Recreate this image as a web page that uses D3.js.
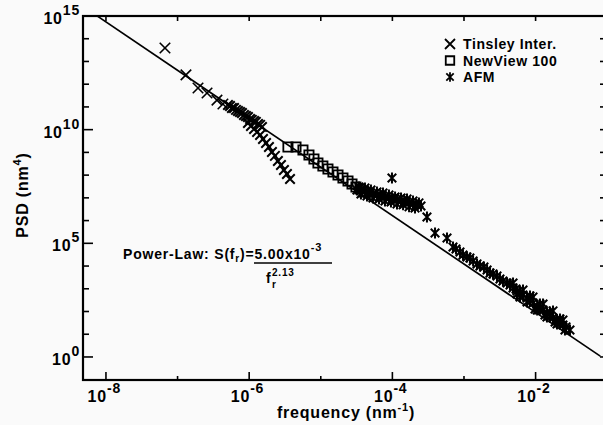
<!DOCTYPE html>
<html>
<head>
<meta charset="utf-8">
<script src="https://cdn.jsdelivr.net/npm/d3@7"></script>
<style>
    body { margin: 0; background: #fafafa; }
    svg { display: block; font-family: "Liberation Sans", Arial, sans-serif; font-weight: bold; }
</style>
</head>
<body>
<div id="chart"></div>
<script>
// psd chart - log-log power spectral density of three instruments

const width = 603;
const height = 425;
const plot = { left: 83, right: 606, top: 16, bottom: 380 };

// [frequency (nm^-1), PSD (nm^4)]
const tinsleyData = [
    [6.67e-8, 3.9e13], [1.31e-7, 2.57e12], [1.93e-7, 6.8e11], [2.58e-7, 4.1e11], [3.55e-7, 2.0e11], [4.3e-7, 1.35e11],
    [5.06e-7, 1.22e11], [5.4e-7, 1.1e11], [5.75e-7, 9.0e10], [6.14e-7, 9.0e10], [6.55e-7, 7.4e10], [6.98e-7, 6.6e10],
    [7.45e-7, 6.0e10], [7.93e-7, 5.4e10], [8.46e-7, 4.4e10], [9.02e-7, 4.0e10], [9.62e-7, 3.6e10], [1.03e-6, 2.95e10],
    [1.09e-6, 2.7e10], [1.17e-6, 2.4e10], [1.24e-6, 2.2e10], [1.33e-6, 1.78e10], [1.42e-6, 1.62e10], [1.51e-6, 1.32e10],
    [9.62e-7, 1.97e10], [1.06e-6, 1.45e10], [1.17e-6, 1.07e10], [1.29e-6, 7.9e9], [1.42e-6, 5.85e9], [1.56e-6, 3.9e9],
    [1.72e-6, 2.6e9], [1.89e-6, 1.73e9], [2.08e-6, 1.04e9], [2.29e-6, 7.0e8], [2.52e-6, 4.2e8], [2.78e-6, 2.8e8],
    [3.06e-6, 1.69e8], [3.37e-6, 1.12e8], [3.72e-6, 6.8e7]
];

const newviewData = [
    [3.48e-6, 1.73e9], [4.51e-6, 1.73e9], [5.64e-6, 1.28e9], [6.84e-6, 7.7e8], [8.03e-6, 5.1e8], [9.13e-6, 3.42e8],
    [1.07e-5, 2.53e8], [1.26e-5, 1.87e8], [1.48e-5, 1.38e8], [1.74e-5, 1.02e8], [2.04e-5, 7.5e7], [2.40e-5, 5.5e7],
    [2.73e-5, 4.08e7], [3.10e-5, 3.0e7], [3.53e-5, 2.46e7], [4.01e-5, 1.82e7]
];

const afmData = [
    [3.20e-5, 2.22e7], [3.64e-5, 2.22e7], [4.14e-5, 2.01e7], [4.71e-5, 1.64e7], [5.36e-5, 1.48e7], [6.09e-5, 1.34e7],
    [6.93e-5, 1.21e7], [7.88e-5, 1.09e7], [8.96e-5, 9.9e6], [1.02e-4, 8.9e6], [1.16e-4, 8.1e6], [1.32e-4, 7.3e6],
    [1.50e-4, 6.6e6], [1.71e-4, 6.0e6], [1.94e-4, 5.4e6], [2.21e-4, 4.9e6], [2.51e-4, 4.4e6],
    [3.64e-5, 1.48e7], [4.42e-5, 1.21e7], [5.36e-5, 9.9e6], [6.50e-5, 8.9e6], [7.88e-5, 7.3e6], [9.56e-5, 6.6e6],
    [1.16e-4, 5.4e6], [1.41e-4, 4.9e6], [1.71e-4, 4.0e6], [2.07e-4, 3.6e6],
    [3.42e-5, 3.01e7], [4.14e-5, 2.72e7], [5.02e-5, 2.22e7], [6.09e-5, 1.82e7], [7.39e-5, 1.64e7], [8.96e-5, 1.34e7],
    [1.09e-4, 1.09e7], [1.32e-4, 9.9e6], [1.60e-4, 8.9e6], [1.94e-4, 7.3e6], [2.35e-4, 6.0e6],
    [9.87e-5, 7.5e7], [3.04e-4, 1.44e6], [3.94e-4, 2.85e5], [5.79e-4, 1.72e5],
    [7.02e-4, 6.9e4], [7.73e-4, 5.64e4], [8.79e-4, 4.16e4], [9.68e-4, 3.07e4], [1.10e-3, 2.51e4], [1.21e-3, 2.27e4],
    [1.34e-3, 1.67e4], [1.52e-3, 1.24e4], [1.67e-3, 1.01e4], [1.90e-3, 9.1e3], [2.10e-3, 6.7e3], [2.31e-3, 4.96e3],
    [2.54e-3, 4.5e3], [2.89e-3, 3.66e3], [3.18e-3, 2.7e3], [3.50e-3, 2.21e3], [3.99e-3, 1.80e3], [4.39e-3, 1.47e3],
    [4.84e-3, 1.09e3], [5.50e-3, 801], [6.05e-3, 655], [6.67e-3, 535], [7.59e-3, 394], [8.35e-3, 322],
    [9.20e-3, 238], [1.05e-2, 175], [1.15e-2, 143], [1.27e-2, 117], [1.44e-2, 86], [1.59e-2, 63.7], [1.75e-2, 52],
    [1.99e-2, 42.5], [2.19e-2, 31], [2.41e-2, 25.6], [2.66e-2, 21], [3.02e-2, 15.4],
    [4.84e-3, 1.80e3], [6.67e-3, 887], [9.20e-3, 436], [1.27e-2, 215], [1.75e-2, 106], [2.41e-2, 42.5],
    [5.50e-3, 591], [7.59e-3, 263], [1.05e-2, 117], [1.44e-2, 57.5], [1.99e-2, 28.3], [2.57e-2, 15.4],
    [5.33e-3, 982], [6.05e-3, 436], [8.35e-3, 483], [9.81e-3, 129], [1.15e-2, 215], [1.35e-2, 70.4],
    [1.59e-2, 95.5], [1.87e-2, 34.7], [2.19e-2, 47]
];

// power-law fit S(f) = coef / f^exp, drawn between these frequencies
const lawCoef = 5.00e-3;
const lawExp = 2.13;
const lawFreqRange = [7.5e-9, 0.08];

const xTicks = [1e-8, 1e-7, 1e-6, 1e-5, 1e-4, 1e-3, 1e-2];
const xLabelExps = [-8, -6, -4, -2];
const yTicks = d3.range(0, 16).map(e => Math.pow(10, e));
const yLabelExps = [0, 5, 10, 15];
const legendNames = ["Tinsley Inter.", "NewView 100", "AFM"];

const x = d3.scaleLog().domain([4.78e-9, 0.0962]).range([plot.left, plot.right]);
const y = d3.scaleLog().domain([0.097, 1e15]).range([plot.bottom, plot.top]);

// stroked marker shapes for d3.symbol
const timesType = {
    draw(ctx, size) {
        const r = Math.sqrt(size) / 2;
        ctx.moveTo(-r, -r); ctx.lineTo(r, r);
        ctx.moveTo(-r, r); ctx.lineTo(r, -r);
    }
};
const starType = {
    draw(ctx, size) {
        const r = Math.sqrt(size) / 2;
        const d = r * 0.78;
        ctx.moveTo(0, -r); ctx.lineTo(0, r);
        ctx.moveTo(-d, -d); ctx.lineTo(d, d);
        ctx.moveTo(-d, d); ctx.lineTo(d, -d);
    }
};
const squareType = {
    draw(ctx, size) {
        const r = Math.sqrt(size) / 2;
        ctx.rect(-r, -r, 2 * r, 2 * r);
    }
};

const svg = d3.select("#chart")
    .append("svg")
    .attr("width", width)
    .attr("height", height);

svg.append("rect")
    .attr("width", width)
    .attr("height", height)
    .attr("fill", "#fafafa");

svg.append("clipPath")
    .attr("id", "plot-clip")
    .append("rect")
    .attr("x", plot.left)
    .attr("y", plot.top)
    .attr("width", plot.right - plot.left)
    .attr("height", plot.bottom - plot.top);

const gPlot = svg.append("g").attr("clip-path", "url(#plot-clip)");

// fit line
const lawPoints = lawFreqRange.map(f => [f, lawCoef / Math.pow(f, lawExp)]);
gPlot.append("path")
    .datum(lawPoints)
    .attr("d", d3.line().x(d => x(d[0])).y(d => y(d[1])))
    .attr("fill", "none")
    .attr("stroke", "#000")
    .attr("stroke-width", 1.7);

function drawMarkers(data, type, size, sw, cls) {
    gPlot.append("g")
        .attr("class", cls)
        .selectAll("path")
        .data(data)
        .enter()
        .append("path")
        .attr("transform", d => `translate(${x(d[0])},${y(d[1])})`)
        .attr("d", d3.symbol().type(type).size(size))
        .attr("fill", "none")
        .attr("stroke", "#000")
        .attr("stroke-width", sw);
}

drawMarkers(tinsleyData.slice(0, 6), timesType, 110, 1.6, "tinsley-big");
drawMarkers(tinsleyData.slice(6), timesType, 90, 2, "tinsley");
drawMarkers(newviewData, squareType, 85, 1.8, "newview");
drawMarkers(afmData, starType, 120, 2, "afm");

// frame
const gAxes = svg.append("g").attr("stroke", "#000");
gAxes.append("rect")
    .attr("x", plot.left)
    .attr("y", plot.top)
    .attr("width", plot.right - plot.left)
    .attr("height", plot.bottom - plot.top)
    .attr("fill", "none")
    .attr("stroke-width", 2.2);

// x ticks, bottom and top, pointing inward
gAxes.selectAll(".xtick-b")
    .data(xTicks)
    .enter()
    .append("line")
    .attr("x1", d => x(d)).attr("x2", d => x(d))
    .attr("y1", plot.bottom)
    .attr("y2", d => plot.bottom - (xLabelExps.includes(Math.round(Math.log10(d))) ? 8 : 4))
    .attr("stroke-width", 1.6);

gAxes.selectAll(".xtick-t")
    .data(xTicks)
    .enter()
    .append("line")
    .attr("x1", d => x(d)).attr("x2", d => x(d))
    .attr("y1", plot.top)
    .attr("y2", plot.top + 5)
    .attr("stroke-width", 1.6);

// y ticks, left and right
gAxes.selectAll(".ytick-l")
    .data(yTicks)
    .enter()
    .append("line")
    .attr("y1", d => y(d)).attr("y2", d => y(d))
    .attr("x1", plot.left)
    .attr("x2", d => plot.left + (yLabelExps.includes(Math.round(Math.log10(d))) ? 10 : 6))
    .attr("stroke-width", 1.6);

gAxes.selectAll(".ytick-r")
    .data(yTicks)
    .enter()
    .append("line")
    .attr("y1", d => y(d)).attr("y2", d => y(d))
    .attr("x1", plot.right)
    .attr("x2", plot.right - 6)
    .attr("stroke-width", 1.6);

// tick labels
const gLabels = svg.append("g").attr("fill", "#000").style("letter-spacing", "0.8px");

xLabelExps.forEach(e => {
    const px = x(Math.pow(10, e));
    gLabels.append("text")
        .attr("x", px + 1)
        .attr("y", 402)
        .attr("text-anchor", "end")
        .attr("font-size", 16)
        .text("10");
    gLabels.append("text")
        .attr("x", px + 1)
        .attr("y", 393)
        .attr("font-size", 14)
        .text(e);
});

yLabelExps.forEach(e => {
    const py = y(Math.pow(10, e));
    const t = gLabels.append("text")
        .attr("x", 80)
        .attr("y", py + 8)
        .attr("text-anchor", "end")
        .attr("font-size", 16);
    t.append("tspan").text("10");
    t.append("tspan").attr("dy", -9).attr("font-size", 14).text(e);
});

// axis titles
const xTitle = gLabels.append("text")
    .attr("x", 346)
    .attr("y", 418)
    .attr("text-anchor", "middle")
    .attr("font-size", 16);
xTitle.append("tspan").text("frequency (nm");
xTitle.append("tspan").attr("dy", -7).attr("font-size", 11).text("-1");
xTitle.append("tspan").attr("dy", 7).text(")");

const yTitle = gLabels.append("text")
    .attr("transform", "translate(28,195) rotate(-90)")
    .attr("text-anchor", "middle")
    .attr("font-size", 16);
yTitle.append("tspan").text("PSD (nm");
yTitle.append("tspan").attr("dy", -7).attr("font-size", 11).text("4");
yTitle.append("tspan").attr("dy", 7).text(")");

// legend
const legendTypes = [timesType, squareType, starType];
const legendSizes = [100, 72, 90];
const gLegend = svg.append("g").attr("class", "legend");
legendNames.forEach((name, i) => {
    const ly = 49 + i * 16.5;
    gLegend.append("path")
        .attr("transform", `translate(450,${ly - 5})`)
        .attr("d", d3.symbol().type(legendTypes[i]).size(legendSizes[i]))
        .attr("fill", "none")
        .attr("stroke", "#000")
        .attr("stroke-width", 1.8);
    gLegend.append("text")
        .attr("x", 463)
        .attr("y", ly)
        .attr("font-size", 14)
        .style("letter-spacing", "0.6px")
        .text(name);
});

// power-law annotation
const gLaw = svg.append("g").attr("class", "law").style("letter-spacing", "0.8px");
const lawText = gLaw.append("text")
    .attr("x", 123)
    .attr("y", 259)
    .attr("font-size", 14);
lawText.append("tspan").text("Power-Law: S(f");
lawText.append("tspan").attr("dy", 3).attr("font-size", 10).text("r");
lawText.append("tspan").attr("dy", -3).text(")=5.00x10");
lawText.append("tspan").attr("dy", -8).attr("font-size", 11).text("-3");

gLaw.append("line")
    .attr("x1", 254).attr("x2", 332)
    .attr("y1", 263).attr("y2", 263)
    .attr("stroke", "#000")
    .attr("stroke-width", 1.6);

gLaw.append("text")
    .attr("x", 266)
    .attr("y", 283)
    .attr("font-size", 14)
    .text("f");
gLaw.append("text")
    .attr("x", 272)
    .attr("y", 276)
    .attr("font-size", 10)
    .text(lawExp.toFixed(2));
gLaw.append("text")
    .attr("x", 272)
    .attr("y", 288)
    .attr("font-size", 10)
    .text("r");
</script>
</body>
</html>
